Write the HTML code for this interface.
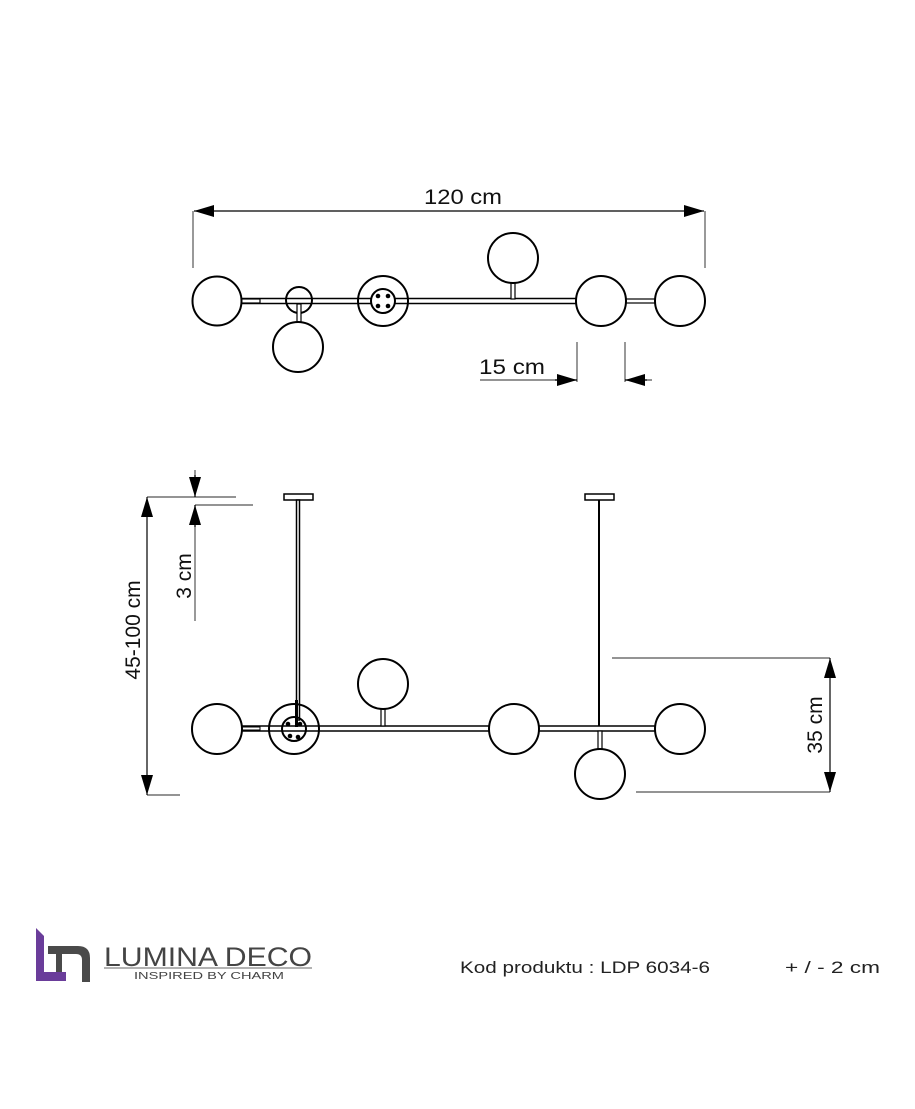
<!DOCTYPE html>
<html><head><meta charset="utf-8"><style>
html,body{margin:0;padding:0;background:#fff;}
svg{display:block;}
text{font-family:"Liberation Sans",sans-serif;}
</style></head><body>
<svg width="915" height="1109" viewBox="0 0 915 1109" xmlns="http://www.w3.org/2000/svg">
<defs>
<marker id="ar2" viewBox="0 0 10 10" refX="10" refY="5" markerWidth="20" markerHeight="12" markerUnits="userSpaceOnUse" orient="auto-start-reverse" preserveAspectRatio="none"><path d="M0,0 L10,5 L0,10 z" fill="#000"/></marker>
</defs>
<g stroke="#555" stroke-width="1.2" fill="none">
<line x1="193" y1="211" x2="193" y2="268"/>
<line x1="705" y1="211" x2="705" y2="268"/>
<line x1="577" y1="342" x2="577" y2="382"/>
<line x1="625" y1="342" x2="625" y2="382"/>
<line x1="480" y1="380" x2="577" y2="380"/>
<line x1="625" y1="380" x2="652" y2="380"/>
<line x1="147" y1="497" x2="236" y2="497"/>
<line x1="147" y1="795" x2="180" y2="795"/>
<line x1="195" y1="505" x2="253" y2="505"/>
<line x1="195" y1="470" x2="195" y2="497"/>
<line x1="195" y1="505" x2="195" y2="621"/>
<line x1="612" y1="658" x2="830" y2="658"/>
<line x1="636" y1="792" x2="830" y2="792"/>
</g>
<g stroke="#000" stroke-width="1.2" fill="none">
<line x1="194" y1="211" x2="704" y2="211" marker-start="url(#ar2)" marker-end="url(#ar2)"/>
<line x1="555" y1="380" x2="577" y2="380" marker-end="url(#ar2)"/>
<line x1="647" y1="380" x2="625" y2="380" marker-end="url(#ar2)"/>
<line x1="147" y1="497" x2="147" y2="795" marker-start="url(#ar2)" marker-end="url(#ar2)"/>
<line x1="195" y1="475" x2="195" y2="497" marker-end="url(#ar2)"/>
<line x1="195" y1="527" x2="195" y2="505" marker-end="url(#ar2)"/>
<line x1="830" y1="658" x2="830" y2="792" marker-start="url(#ar2)" marker-end="url(#ar2)"/>
</g>
<g fill="#111" font-size="21">
<text x="424" y="204" textLength="78" lengthAdjust="spacingAndGlyphs">120 cm</text>
<text x="479" y="374" textLength="66" lengthAdjust="spacingAndGlyphs">15 cm</text>
<text transform="translate(140,630) rotate(-90)" text-anchor="middle">45-100 cm</text>
<text transform="translate(191,576) rotate(-90)" text-anchor="middle">3 cm</text>
<text transform="translate(822,725) rotate(-90)" text-anchor="middle">35 cm</text>
</g>
<g stroke="#000" stroke-width="2" fill="#fff">
<rect x="240" y="298.5" width="336" height="5" stroke-width="1.5"/>
<rect x="240" y="299" width="20" height="4" stroke-width="1.2"/>
<rect x="625" y="299" width="30" height="4" stroke-width="1.2"/>
<rect x="511" y="282" width="4" height="17" stroke-width="1.2"/>
<circle cx="299" cy="300" r="13" fill="none"/>
<rect x="297" y="304" width="4" height="18" stroke-width="1.2"/>
<circle cx="217" cy="301" r="24.5"/>
<circle cx="298" cy="347" r="25"/>
<circle cx="383" cy="301" r="25" fill="none"/>
<circle cx="383" cy="301" r="12"/>
<circle cx="513" cy="258" r="25"/>
<circle cx="601" cy="301" r="25"/>
<circle cx="680" cy="301" r="25"/>
</g>
<g fill="#000"><circle cx="378" cy="296" r="2.3"/><circle cx="388" cy="296" r="2.3"/><circle cx="378" cy="306" r="2.3"/><circle cx="388" cy="306" r="2.3"/></g>
<g stroke="#000" stroke-width="1.5" fill="#fff">
<rect x="284" y="494" width="29" height="6"/>
<rect x="585" y="494" width="29" height="6"/>
<rect x="296.5" y="500" width="3" height="220"/>
<line x1="599" y1="500" x2="599" y2="726" stroke-width="2"/>
<rect x="240" y="726" width="415" height="5"/>
<rect x="240" y="727" width="20" height="3" stroke-width="1"/>
<rect x="381" y="708" width="4" height="18" stroke-width="1.2"/>
<rect x="598" y="731" width="4" height="18" stroke-width="1.2"/>
</g>
<g stroke="#000" stroke-width="2" fill="#fff">
<circle cx="217" cy="729" r="25"/>
<circle cx="294" cy="729" r="25" fill="none"/>
<circle cx="294" cy="729" r="12" fill="none"/>
<circle cx="383" cy="684" r="25"/>
<circle cx="514" cy="729" r="25"/>
<circle cx="600" cy="774" r="25"/>
<circle cx="680" cy="729" r="25"/>
</g>
<line x1="296.5" y1="700" x2="296.5" y2="727" stroke="#000" stroke-width="3"/>
<g fill="#000"><circle cx="288" cy="724" r="2.3"/><circle cx="300" cy="724" r="2.3"/><circle cx="290" cy="736" r="2.3"/><circle cx="298" cy="737" r="2.3"/></g>
<path d="M36,928 L44,936 L44,972 L66,972 L66,981 L36,981 Z" fill="#6a3d9a"/>
<path d="M48,946 L78,946 Q90,946 90,958 L90,982 L82,982 L82,960 Q82,954 76,954 L62,954 L62,972 L56,972 L56,954 L48,954 Z" fill="#4a4a4a"/>
<text x="104" y="966" font-size="27" fill="#444" textLength="208" lengthAdjust="spacingAndGlyphs">LUMINA DECO</text>
<line x1="104" y1="968" x2="312" y2="968" stroke="#666" stroke-width="1"/>
<text x="134" y="979" font-size="10" fill="#444" textLength="150" lengthAdjust="spacingAndGlyphs">INSPIRED BY CHARM</text>
<text x="460" y="973" font-size="17" fill="#222" textLength="250" lengthAdjust="spacingAndGlyphs">Kod produktu :  LDP 6034-6</text>
<text x="785" y="973" font-size="17" fill="#222" textLength="95" lengthAdjust="spacingAndGlyphs">+ / - 2 cm</text>
</svg>
</body></html>
